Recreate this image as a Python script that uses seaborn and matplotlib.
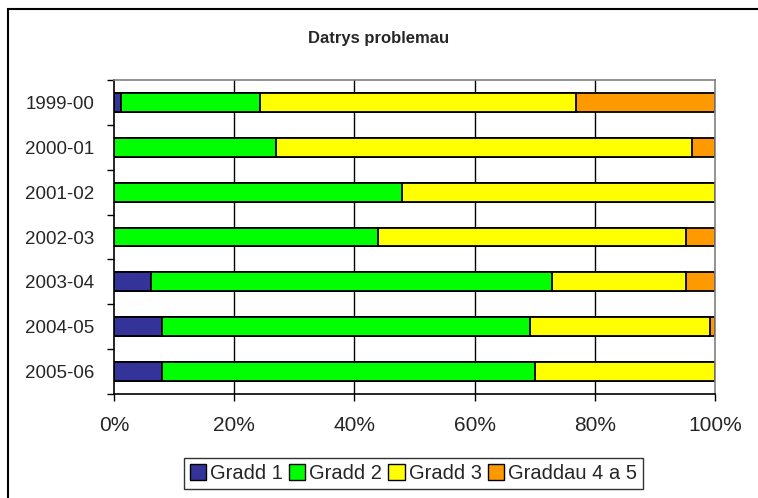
import matplotlib
matplotlib.use("Agg")
import matplotlib.pyplot as plt
import matplotlib.patches as mpatches
import numpy as np
import pandas as pd
import seaborn as sns

# data (percent of each year)
periods = ["1999-00", "2000-01", "2001-02", "2002-03", "2003-04", "2004-05", "2005-06"]
grade1 = [1.1, 0.0, 0.0, 0.0, 6.2, 8.0, 8.0]
grade2 = [23.2, 26.9, 47.9, 44.0, 66.7, 61.3, 62.1]
grade3 = [52.5, 69.3, 52.1, 51.1, 22.2, 29.8, 29.9]
grade45 = [23.2, 3.8, 0.0, 4.9, 4.9, 0.9, 0.0]

series_names = ["Gradd 1", "Gradd 2", "Gradd 3", "Graddau 4 a 5"]
colours = ["#333399", "#00FF00", "#FFFF00", "#FF9900"]

sns.set_style("white")
plt.rcParams["font.family"] = ["Liberation Sans", "DejaVu Sans"]

df = pd.DataFrame({"period": periods, "g1": grade1, "g2": grade2, "g3": grade3, "g45": grade45})
cols = ["g1", "g2", "g3", "g45"]
cum = df[cols].cumsum(axis=1)
cum["period"] = df["period"]

fig = plt.figure(figsize=(7.58, 4.98), dpi=100)
ax = fig.add_axes([114 / 758, 1 - 394 / 498, 601 / 758, 314 / 498])

# vertical gridlines behind the bars
for g in [20, 40, 60, 80]:
    ax.axvline(g, color="black", lw=1.0, zorder=0)

# stacked bars: draw cumulative totals from the back to the front
for col, c in zip(reversed(cols), reversed(colours)):
    sns.barplot(data=cum, x=col, y="period", order=periods, orient="h",
                color=c, edgecolor="black", linewidth=1.3, width=0.42,
                errorbar=None, saturation=1, ax=ax, zorder=2)

ax.set_xlim(0, 100)
ax.set_ylim(len(periods) - 0.5, -0.5)
ax.set_xlabel("")
ax.set_ylabel("")

ax.set_xticks([0, 20, 40, 60, 80, 100])
ax.set_xticklabels(["0%", "20%", "40%", "60%", "80%", "100%"], fontsize=15)
ax.set_yticks(np.arange(-0.5, len(periods), 1.0))
ax.set_yticklabels([""] * (len(periods) + 1))
ax.set_yticks(np.arange(len(periods)), minor=True)
ax.set_yticklabels(periods, minor=True, fontsize=13.5)
ax.tick_params(axis="y", which="major", length=5, width=1, color="black", direction="out", left=True)
ax.tick_params(axis="y", which="minor", length=0, pad=14)
ax.tick_params(axis="x", length=5, width=1, color="black", direction="out", bottom=True, pad=11)

for s in ["left", "bottom"]:
    ax.spines[s].set_color("black")
    ax.spines[s].set_linewidth(1.2)
for s in ["top", "right"]:
    ax.spines[s].set_color("#808080")
    ax.spines[s].set_linewidth(1.2)

fig.text(0.5, 1 - 38 / 498, "Datrys problemau", ha="center", va="center",
         fontsize=12, fontweight="bold")

handles = [mpatches.Patch(facecolor=c, edgecolor="black", lw=1) for c in colours]
leg = fig.legend(handles, series_names, loc="center", ncol=4,
                 bbox_to_anchor=(413.5 / 758, 1 - 473.5 / 498), fontsize=14.5,
                 frameon=True, fancybox=False, handlelength=0.8, handleheight=0.8,
                 handletextpad=0.2, columnspacing=0.3, borderpad=0.3,
                 borderaxespad=0.0)
leg.get_frame().set_edgecolor("black")
leg.get_frame().set_linewidth(1.0)

# outer chart border (only left and top visible in the crop)
fig.patches.append(mpatches.Rectangle((8 / 758, -0.1), 1.2, 1 - 9 / 498 + 0.1,
                                      transform=fig.transFigure, fill=False,
                                      edgecolor="black", lw=1.5))

fig.savefig("out.png", dpi=100)
